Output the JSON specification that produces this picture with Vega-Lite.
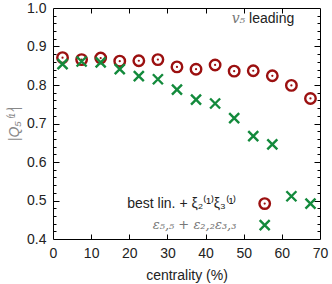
{
  "$schema": "https://vega.github.io/schema/vega-lite/v6.json",
  "width": 267,
  "height": 231,
  "autosize": {"type": "none"},
  "padding": {"left": 53, "top": 8, "right": 12, "bottom": 45},
  "background": "white",
  "config": {
    "view": {"stroke": "#000", "strokeWidth": 1},
    "font": "Liberation Sans",
    "axis": {"grid": false, "domain": false, "labelFont": "Liberation Sans", "titleFont": "Liberation Sans", "labelFontSize": 14, "titleFontSize": 14, "labelColor": "#222", "titleColor": "#222", "titleFontWeight": "normal", "tickColor": "#000"}
  },
  "datasets": {
    "pts": [
      {"c": 2.5, "v": 0.871, "s": "best"}, {"c": 7.5, "v": 0.866, "s": "best"}, {"c": 12.5, "v": 0.870, "s": "best"},
      {"c": 17.5, "v": 0.862, "s": "best"}, {"c": 22.5, "v": 0.863, "s": "best"}, {"c": 27.5, "v": 0.866, "s": "best"},
      {"c": 32.5, "v": 0.847, "s": "best"}, {"c": 37.5, "v": 0.841, "s": "best"}, {"c": 42.5, "v": 0.852, "s": "best"},
      {"c": 47.5, "v": 0.836, "s": "best"}, {"c": 52.5, "v": 0.837, "s": "best"}, {"c": 57.5, "v": 0.824, "s": "best"},
      {"c": 62.5, "v": 0.799, "s": "best"}, {"c": 67.5, "v": 0.765, "s": "best"},
      {"c": 55.5, "v": 0.492, "s": "best"}
    ],
    "crosses": [
      {"c": 2.5, "v": 0.854}, {"c": 7.5, "v": 0.861}, {"c": 12.5, "v": 0.859},
      {"c": 17.5, "v": 0.841}, {"c": 22.5, "v": 0.823}, {"c": 27.5, "v": 0.815},
      {"c": 32.5, "v": 0.788}, {"c": 37.5, "v": 0.762}, {"c": 42.5, "v": 0.752},
      {"c": 47.5, "v": 0.714}, {"c": 52.5, "v": 0.667}, {"c": 57.5, "v": 0.646},
      {"c": 62.5, "v": 0.511}, {"c": 67.5, "v": 0.492},
      {"c": 55.5, "v": 0.436}
    ]
  },
  "layer": [
    {
      "data": {"name": "pts"},
      "mark": {"type": "point", "shape": "circle", "filled": false, "stroke": "#9b1010", "strokeWidth": 2.4, "size": 110, "opacity": 1},
      "encoding": {
        "x": {"field": "c", "type": "quantitative", "scale": {"domain": [0, 70], "nice": false, "zero": false},
              "axis": {"orient": "bottom", "title": "centrality (%)", "values": [0,10,20,30,40,50,60,70], "ticks": false, "labelPadding": 7, "titlePadding": 8, "labelFlush": false}},
        "y": {"field": "v", "type": "quantitative", "scale": {"domain": [0.4, 1.0], "nice": false, "zero": false},
              "axis": {"orient": "left", "title": "|Q₅⁽¹⁾|", "titleColor": "#888", "titleFontStyle": "italic", "values": [0.4,0.5,0.6,0.7,0.8,0.9,1.0], "format": ".1f", "ticks": false, "labelPadding": 7, "titlePadding": 5, "labelFlush": false}}
      }
    },
    {
      "data": {"name": "pts"},
      "mark": {"type": "point", "shape": "circle", "filled": true, "fill": "#9b1010", "size": 5, "opacity": 1},
      "encoding": {
        "x": {"field": "c", "type": "quantitative", "axis": {"orient": "top", "title": null, "labels": false, "values": [10,20,30,40,50,60], "tickSize": -5}},
        "y": {"field": "v", "type": "quantitative", "axis": {"orient": "right", "title": null, "labels": false, "values": [0.5,0.6,0.7,0.8,0.9], "tickSize": -6}}
      }
    },
    {
      "data": {"name": "crosses"},
      "mark": {"type": "point", "shape": "M-1,-1L1,1M-1,1L1,-1", "filled": false, "stroke": "#138a3c", "strokeWidth": 2.4, "size": 100, "opacity": 1},
      "encoding": {
        "x": {"field": "c", "type": "quantitative", "axis": {"orient": "bottom", "title": null, "labels": false, "values": [10,20,30,40,50,60], "tickSize": -5}},
        "y": {"field": "v", "type": "quantitative", "axis": {"orient": "left", "title": null, "labels": false, "values": [0.5,0.6,0.7,0.8,0.9], "tickSize": -6}}
      }
    },
    {
      "data": {"name": "crosses"},
      "mark": {"type": "point", "opacity": 0},
      "encoding": {
        "x": {"field": "c", "type": "quantitative", "axis": null},
        "y": {"field": "v", "type": "quantitative", "axis": {"orient": "left", "title": null, "labels": false, "values": [0.42,0.44,0.46,0.48,0.52,0.54,0.56,0.58,0.62,0.64,0.66,0.68,0.72,0.74,0.76,0.78,0.82,0.84,0.86,0.88,0.92,0.94,0.96,0.98], "tickSize": -3}}
      }
    },
    {
      "data": {"name": "crosses"},
      "mark": {"type": "point", "opacity": 0},
      "encoding": {
        "x": {"field": "c", "type": "quantitative", "axis": null},
        "y": {"field": "v", "type": "quantitative", "axis": {"orient": "right", "title": null, "labels": false, "values": [0.42,0.44,0.46,0.48,0.52,0.54,0.56,0.58,0.62,0.64,0.66,0.68,0.72,0.74,0.76,0.78,0.82,0.84,0.86,0.88,0.92,0.94,0.96,0.98], "tickSize": -3}}
      }
    },
    {
      "data": {"values": [{"c": 48.1, "v": 0.492, "t": "best lin. + ξ₂⁽¹⁾ξ₃⁽¹⁾"}]},
      "mark": {"type": "text", "align": "right", "baseline": "middle", "fontSize": 14, "color": "#222", "font": "Liberation Sans"},
      "encoding": {"x": {"field": "c", "type": "quantitative", "axis": null}, "y": {"field": "v", "type": "quantitative", "axis": null}, "text": {"field": "t"}}
    },
    {
      "data": {"values": [{"c": 48.1, "v": 0.436, "t": "ε₅,₅ + ε₂,₂ε₃,₃"}]},
      "mark": {"type": "text", "align": "right", "baseline": "middle", "fontSize": 13, "color": "#777", "font": "DejaVu Serif", "fontStyle": "italic"},
      "encoding": {"x": {"field": "c", "type": "quantitative", "axis": null}, "y": {"field": "v", "type": "quantitative", "axis": null}, "text": {"field": "t"}}
    },
    {
      "data": {"values": [{"c": 50.4, "v": 0.972, "t": "v₅"}]},
      "mark": {"type": "text", "align": "right", "baseline": "middle", "fontSize": 14, "color": "#777", "font": "DejaVu Serif", "fontStyle": "italic"},
      "encoding": {"x": {"field": "c", "type": "quantitative", "axis": null}, "y": {"field": "v", "type": "quantitative", "axis": null}, "text": {"field": "t"}}
    },
    {
      "data": {"values": [{"c": 51.4, "v": 0.972, "t": "leading"}]},
      "mark": {"type": "text", "align": "left", "baseline": "middle", "fontSize": 14, "color": "#222", "font": "Liberation Sans"},
      "encoding": {"x": {"field": "c", "type": "quantitative", "axis": null}, "y": {"field": "v", "type": "quantitative", "axis": null}, "text": {"field": "t"}}
    }
  ],
  "resolve": {"axis": {"x": "independent", "y": "independent"}}
}
